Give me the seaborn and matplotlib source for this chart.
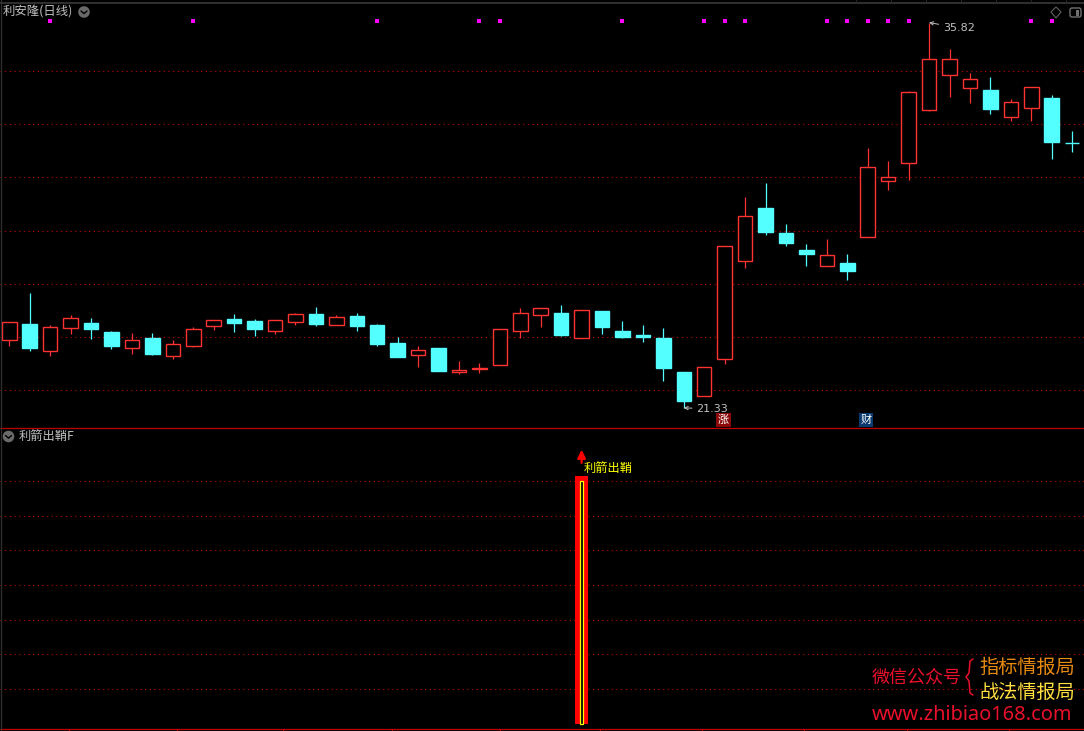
import numpy as np
import pandas as pd
from matplotlib import pyplot as plt
from matplotlib.patches import Circle, Polygon, FancyBboxPatch
import seaborn as sns

# daily candles
opens = [23.90, 24.49, 23.48, 24.35, 24.53, 24.19, 23.60, 23.96, 23.30, 23.67,
         24.40, 24.66, 24.60, 24.24, 24.57, 24.86, 24.46, 24.79, 24.45, 23.77,
         23.33, 23.59, 22.69, 22.80, 22.96, 24.24, 24.84, 24.90, 23.97, 24.98,
         24.22, 24.07, 23.96, 22.68, 21.79, 23.18, 26.87, 28.85, 27.91, 27.27,
         26.68, 26.78, 27.77, 29.88, 30.55, 32.55, 33.86, 33.37, 33.29, 32.28,
         32.62, 32.98, 31.30]
closes = [24.55, 23.59, 24.36, 24.70, 24.30, 23.66, 23.87, 23.36, 23.72, 24.29,
          24.63, 24.53, 24.30, 24.63, 24.85, 24.49, 24.74, 24.41, 23.74, 23.25,
          23.50, 22.72, 22.76, 22.82, 24.29, 24.89, 25.08, 24.07, 25.00, 24.37,
          24.00, 24.00, 22.83, 21.59, 22.86, 27.41, 28.54, 27.95, 27.53, 27.12,
          27.07, 26.48, 30.38, 30.00, 33.20, 34.44, 34.44, 33.69, 32.57, 32.82,
          33.39, 31.33, 31.29]
highs = [24.55, 25.65, 24.44, 24.83, 24.71, 24.22, 24.14, 24.14, 23.87, 24.37,
         24.63, 24.86, 24.66, 24.63, 24.89, 25.13, 24.83, 24.90, 24.49, 24.00,
         23.66, 23.59, 23.10, 23.02, 24.29, 25.09, 25.08, 25.20, 25.00, 24.98,
         24.60, 24.45, 24.34, 22.68, 22.86, 27.41, 29.26, 29.79, 28.25, 27.50,
         27.68, 27.12, 31.10, 30.62, 33.25, 35.82, 34.82, 33.93, 33.78, 32.95,
         33.39, 33.10, 31.74]
lows = [23.67, 23.48, 23.30, 24.12, 23.94, 23.56, 23.37, 23.32, 23.18, 23.63,
        24.27, 24.19, 24.04, 24.12, 24.46, 24.42, 24.46, 24.22, 23.67, 23.25,
        22.87, 22.72, 22.61, 22.65, 22.96, 23.96, 24.37, 24.04, 23.97, 24.11,
        23.96, 23.81, 22.34, 21.33, 21.79, 23.00, 26.59, 27.83, 27.42, 26.67,
        26.68, 26.14, 27.77, 29.53, 29.90, 32.51, 33.02, 32.80, 32.38, 32.12,
        32.12, 30.69, 30.95]

# magenta signal row along the top of the price panel
signal_days = [2, 9, 18, 23, 24, 30, 34, 35, 36, 40, 41, 42, 43, 44, 50, 51]
signal_level = [35.87] * len(signal_days)

# lower indicator panel
arrow_day = [28]
arrow_outer = [7.14]
arrow_inner = [7.0]

price_grid = [22, 24, 26, 28, 30, 32, 34]
indicator_grid = [1, 2, 3, 4, 5, 6, 7]
date_ticks = [2.9, 8.2, 13.4, 18.7, 24.0, 28.9, 33.9, 38.9, 43.9, 48.9]

RED = '#ff3232'
CYAN = '#54ffff'
GRID = '#c40000'
LINE = '#c00000'
GRAY = '#c0c0c0'

W, H = 1084, 731
sns.set_theme(style='dark')
plt.rcParams['font.family'] = ['Noto Sans CJK SC', 'DejaVu Sans']

fig = plt.figure(figsize=(W / 100, H / 100), dpi=100, facecolor='black')
ax1 = fig.add_axes([0, 1 - 427.5 / H, 1, 427.5 / H], facecolor='black')
ax2 = fig.add_axes([0, 1 - 728.5 / H, 1, 301 / H], facecolor='black')
over = fig.add_axes([0, 0, 1, 1], facecolor='none')
over.set_xlim(0, W)
over.set_ylim(H, 0)
over.axis('off')

candles = pd.DataFrame({'open': opens, 'close': closes, 'high': highs, 'low': lows})
candles['day'] = candles.index
candles['up'] = candles['close'] >= candles['open']
candles['top'] = candles[['open', 'close']].max(axis=1)
candles['bottom'] = candles[['open', 'close']].min(axis=1)

# wicks first, bodies cover them
for up, color, face in [(True, RED, 'black'), (False, CYAN, CYAN)]:
    part = candles[candles['up'] == up]
    ax1.vlines(part['day'], part['low'], part['high'], color=color, linewidth=0.9, zorder=2)
    ax1.bar(part['day'], part['top'] - part['bottom'], bottom=part['bottom'], width=0.71,
            facecolor=face, edgecolor=color, linewidth=1.0, zorder=3)

sns.scatterplot(x=signal_days, y=signal_level, color='#ff00ff', marker='s', s=7,
                linewidth=0, ax=ax1, zorder=4)

# high and low flags
hi_day = int(np.argmax(highs))
lo_day = int(np.argmin(lows))
ax1.annotate(f'{max(highs):.2f}', xy=(hi_day, max(highs)), xytext=(10.2, -3.8),
             textcoords='offset points', color=GRAY, fontsize=8, va='center',
             family='DejaVu Sans',
             arrowprops=dict(arrowstyle='->', color=GRAY, linewidth=0.7, shrinkA=1, shrinkB=0,
                             mutation_scale=6))
ax1.annotate(f'{min(lows):.2f}', xy=(lo_day, min(lows)), xytext=(9.2, -0.4),
             textcoords='offset points', color=GRAY, fontsize=8, va='center',
             family='DejaVu Sans',
             arrowprops=dict(arrowstyle='->', color=GRAY, linewidth=0.7, shrinkA=1, shrinkB=0,
                             mutation_scale=6))

sns.barplot(x=arrow_day, y=arrow_outer, native_scale=True, width=0.62, color='#ff0000',
            saturation=1, linewidth=0, ax=ax2, zorder=3)
sns.barplot(x=arrow_day, y=arrow_inner, native_scale=True, width=0.16, color='black',
            saturation=1, edgecolor='#ffff00', linewidth=0.9, ax=ax2, zorder=4)
ax2.annotate('', xy=(arrow_day[0], 7.9), xytext=(arrow_day[0], 7.52),
             arrowprops=dict(arrowstyle='-|>', color='#ff0000', linewidth=1.6,
                             mutation_scale=12, shrinkA=0, shrinkB=0))
ax2.text(arrow_day[0] + 0.12, 7.35, '利箭出鞘', color='#ffff00', fontsize=8.8, va='center')

ax1.set_xlim(-0.455, 52.58)
ax2.set_xlim(-0.455, 52.58)
ax1.set_ylim(36.67 - 0.0376 * 427.5, 36.67)
ax2.set_ylim(-0.139, 8.54)
ax1.set_yticks(price_grid)
ax2.set_yticks(indicator_grid)

for ax in (ax1, ax2):
    ax.grid(axis='y', color=GRID, linestyle=(0, (1, 3.2)), linewidth=0.8)
    ax.grid(axis='x', visible=False)
    ax.set_axisbelow(True)
    ax.tick_params(labelleft=False, labelbottom=False, left=False, bottom=False)
    ax.set_xlabel('')
    ax.set_ylabel('')
    for spine in ax.spines.values():
        spine.set_visible(False)

ax2.set_xticks(date_ticks)
ax2.tick_params(bottom=True, color=LINE, length=2.2, width=0.8, direction='out', pad=0)

# panel borders sit on the overlay so the lower panel does not cover them
over.plot([0, W], [427.5, 427.5], color=LINE, linewidth=0.9)
over.plot([0, W], [728.5, 728.5], color=LINE, linewidth=0.9)
over.plot([0.5, 0.5], [0, H], color='#303030', linewidth=0.9)

# title strip and panel captions
over.plot([0, W], [3, 3], color='#303030', linewidth=1.4)
for tab in range(856, W, 35):
    over.plot([tab, tab], [0, 3], color='#2a2a2a', linewidth=0.7)
over.text(3, 12, '利安隆(日线)', color=GRAY, fontsize=8.9, va='center')
over.text(19, 436, '利箭出鞘F', color=GRAY, fontsize=8.8, va='center')
for cx, cy in [(84, 12), (8.5, 436.5)]:
    over.add_patch(Circle((cx, cy), 5.8, color='#6a6a6a', linewidth=0))
    over.plot([cx - 3, cx, cx + 3], [cy - 1, cy + 1.6, cy - 1], color='black', linewidth=1)

# little window icons top right
over.add_patch(Polygon([(1056, 7), (1061, 12), (1056, 18), (1051, 12)], closed=True,
                       fill=False, edgecolor='#606060', linewidth=0.8))
over.add_patch(FancyBboxPatch((1070, 8), 11, 9, boxstyle='round,pad=0,rounding_size=2',
                              fill=False, edgecolor='#707070', linewidth=1))
over.add_patch(plt.Rectangle((1076, 9.5), 3, 6, color='#707070', linewidth=0))

# event badges
over.text(723.5, 420, '涨', color='white', fontsize=8, ha='center', va='center',
          bbox=dict(facecolor='#8a0808', edgecolor='none', pad=1.2))
over.text(866, 420, '财', color='white', fontsize=8, ha='center', va='center',
          bbox=dict(facecolor='#0a3a6e', edgecolor='none', pad=1.2))

# watermark
over.text(872, 678, '微信公众号', color='#e8102a', fontsize=13, va='center')
over.text(979.5, 667, '指标情报局', color='#e88a10', fontsize=13.8, va='center')
over.text(979.5, 692, '战法情报局', color='#ffe040', fontsize=13.8, va='center')
over.text(872, 715, 'www.zhibiao168.com', color='#e8102a', fontsize=14.4, va='center',
          family='Noto Sans')
# brace between the two text blocks, drawn as a line so it stays slim
over.plot([973, 970, 969, 966, 969, 970, 973], [659, 661, 673, 677, 681, 693, 695],
          color='#e8102a', linewidth=1.1)

fig.savefig('out.png', dpi=100, facecolor='black')
